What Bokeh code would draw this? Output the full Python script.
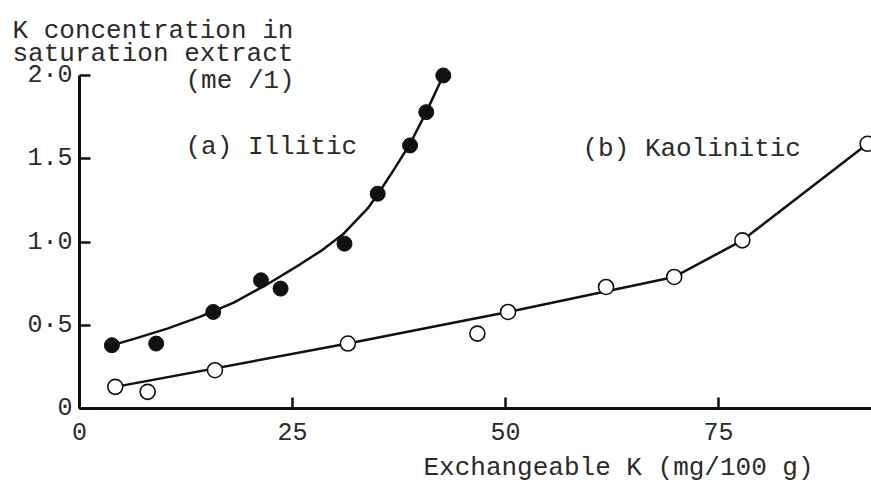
from bokeh.plotting import figure
from bokeh.models import FixedTicker, Label
from bokeh.embed import file_html
from bokeh.resources import INLINE

# (a) Illitic soil: measured points and the fitted curve through them
illitic_x = [3.8, 9.0, 15.7, 21.3, 23.6, 31.1, 35.0, 38.8, 40.7, 42.7]
illitic_y = [0.38, 0.39, 0.58, 0.77, 0.72, 0.99, 1.29, 1.58, 1.78, 2.00]
illitic_curve_x = [3.8, 6.4, 10.3, 14.2, 18.1, 22.0, 25.9, 28.3, 31.0, 33.8,
                   35.0, 36.9, 38.8, 40.7, 42.7]
illitic_curve_y = [0.38, 0.418, 0.48, 0.552, 0.636, 0.745, 0.866, 0.945, 1.05,
                   1.20, 1.285, 1.435, 1.59, 1.78, 2.00]

# (b) Kaolinitic soil: measured points and the broken line through them
kaolinitic_x = [4.2, 8.0, 15.9, 31.5, 46.7, 50.3, 61.8, 69.8, 77.8, 92.5]
kaolinitic_y = [0.13, 0.10, 0.23, 0.39, 0.45, 0.58, 0.73, 0.79, 1.01, 1.59]
kaolinitic_line_x = [4.2, 31.5, 50.3, 69.8, 77.8, 92.5]
kaolinitic_line_y = [0.13, 0.39, 0.58, 0.79, 1.01, 1.59]

# axis ticks and their printed labels
x_ticks = [0, 25, 50, 75]
y_ticks = [0, 0.5, 1, 1.5, 2]
y_tick_labels = ["0", "0·5", "1·0", "1.5", "2·0"]

FONT = "Liberation Mono"
INK = "#111111"
TEXT = "#2b2b2b"

W, H = 871, 483
# origin of the axes in canvas pixels and the pixel size of one unit
X0_PX, Y0_PX = 79, 408
PX_PER_X, PX_PER_Y = 8.52, 166.5

p = figure(width=W, height=H,
           x_range=(-X0_PX / PX_PER_X, (W - X0_PX) / PX_PER_X),
           y_range=(-(H - Y0_PX) / PX_PER_Y, Y0_PX / PX_PER_Y),
           output_backend="svg", toolbar_location=None,
           min_border_left=0, min_border_right=0,
           min_border_top=0, min_border_bottom=0)
p.outline_line_color = None
p.xgrid.visible = False
p.ygrid.visible = False
p.background_fill_color = "white"
p.border_fill_color = "white"

for ax in (p.xaxis, p.yaxis):
    ax.axis_line_width = 3
    ax.axis_line_color = INK
    ax.major_tick_in = 11
    ax.major_tick_out = 0
    ax.major_tick_line_width = 2.5
    ax.major_tick_line_color = INK
    ax.minor_tick_line_color = None
    ax.major_label_text_font = FONT
    ax.major_label_text_font_size = "25px"
    ax.major_label_text_color = TEXT

# axes cross at the data origin inside the drawing area
p.xaxis.fixed_location = 0
p.yaxis.fixed_location = 0
p.xaxis.ticker = FixedTicker(ticks=x_ticks)
p.xaxis.bounds = (0, 100)
p.xaxis.major_label_standoff = 14
p.yaxis.ticker = FixedTicker(ticks=y_ticks)
p.yaxis.bounds = (0, 2)
p.yaxis.major_label_standoff = 7
p.yaxis.major_label_overrides = {t: s for t, s in zip(y_ticks, y_tick_labels)}

# fitted lines
p.line(illitic_curve_x, illitic_curve_y, line_color=INK, line_width=2.5,
       line_join="round")
p.line(kaolinitic_line_x, kaolinitic_line_y, line_color=INK, line_width=2.5,
       line_join="round")

# measured points
p.scatter(illitic_x, illitic_y, marker="circle", size=15,
          fill_color=INK, line_color=INK)
p.scatter(kaolinitic_x, kaolinitic_y, marker="circle", size=15,
          fill_color="white", line_color=INK, line_width=1.6)


def put(text, px, py):
    # px, py: left edge and baseline in canvas pixels from the top-left
    p.add_layout(Label(x=px, y=H - py, x_units="screen", y_units="screen",
                       text=text, text_font=FONT, text_font_size="26px",
                       text_color=TEXT, text_baseline="alphabetic",
                       text_align="left"))


put("K concentration in", 12, 30)
put("saturation extract", 12, 53)
put("(me /1)", 185, 80)
put("(a) Illitic", 185, 146)
put("(b) Kaolinitic", 582, 148)
put("Exchangeable K (mg/100 g)", 423, 467)

open("out.html", "w").write(file_html(p, INLINE))
